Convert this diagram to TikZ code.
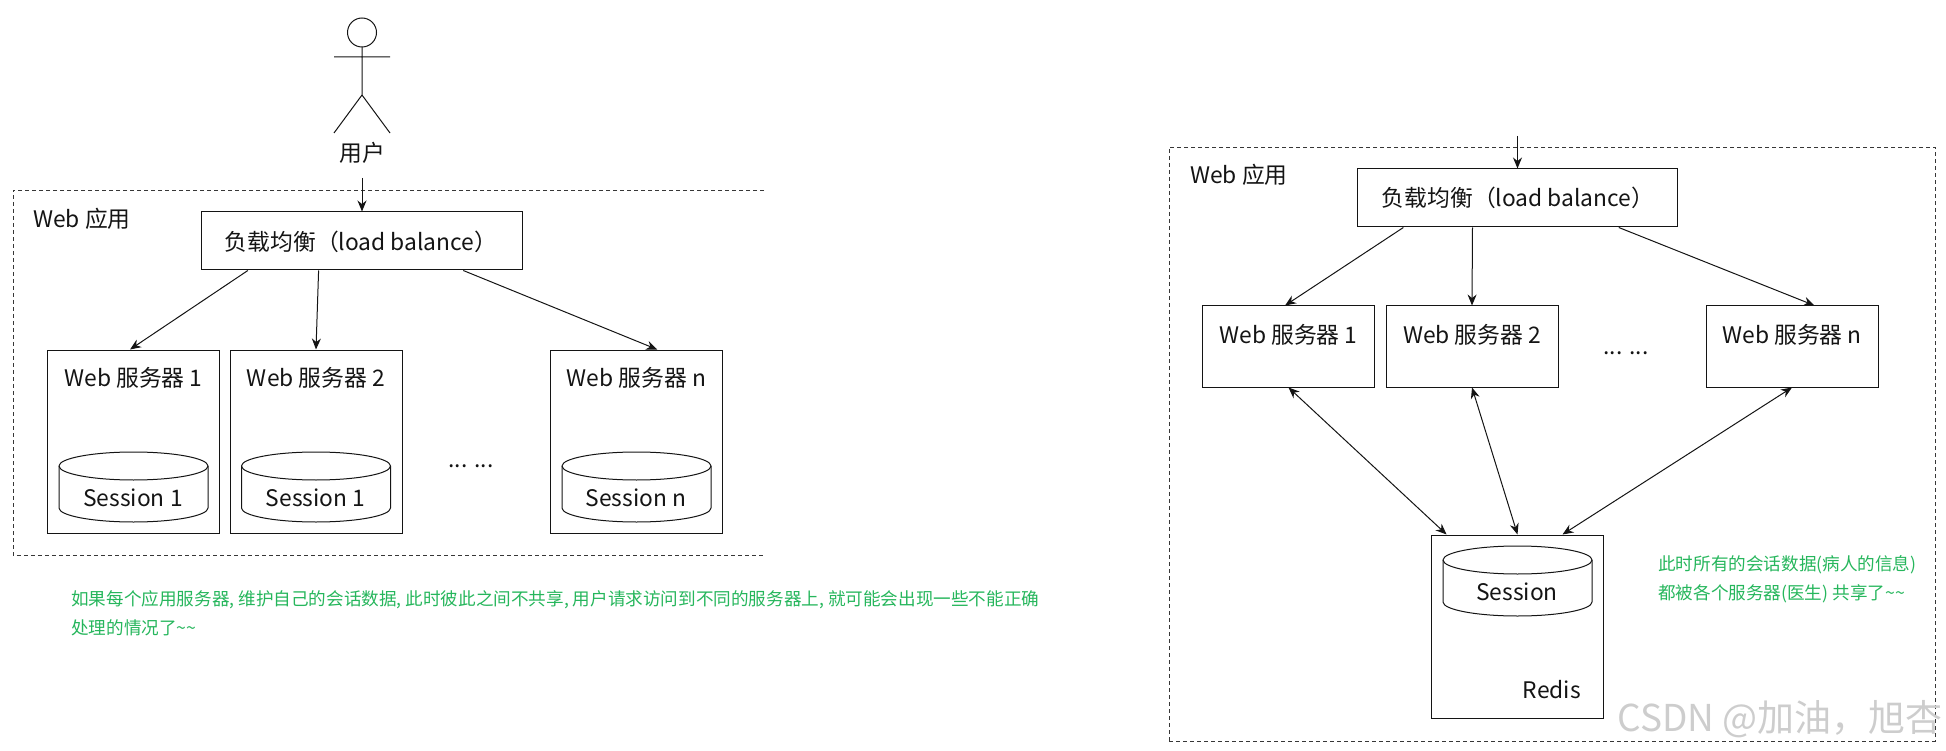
\documentclass[tikz,border=0pt]{standalone}
\usepackage{xcolor}
\usepackage{fontspec}
\setmainfont{Noto Sans CJK SC}
\usetikzlibrary{arrows.meta, positioning, calc}
\definecolor{mydark}{RGB}{20,20,20}
\definecolor{mygreen}{RGB}{38,182,92}
\definecolor{mygray}{RGB}{205,205,205}
\tikzset{
  block/.style={rectangle, draw=mydark, minimum width=#1, inner sep=0pt, line width=1pt},
  lbblock/.style={block=320.5pt, minimum height=58pt},
  webblock/.style={block=172pt, minimum height=183pt},
  webshort/.style={block=172pt, minimum height=81pt},
  redisblock/.style={block=172pt, minimum height=183pt},
  sessioncyl/.pic={
    \draw[line width=1pt, color=mydark] (-74.5,-21) .. controls (-74.5,-28.7) and (-41,-35) .. (0,-35)
      .. controls (41,-35) and (74.5,-28.7) .. (74.5,-21) -- (74.5,21)
      .. controls (74.5,28.7) and (41,35) .. (0,35) .. controls (-41,35) and (-74.5,28.7) .. (-74.5,21) -- cycle;
    \draw[line width=1pt, color=mydark] (-74.5,-21) .. controls (-74.5,-13.3) and (-41,-7) .. (0,-7)
      .. controls (41,-7) and (74.5,-13.3) .. (74.5,-21);
  },
  txt/.style={inner sep=0pt, text=mydark, font=\fontsize{22.8}{26}\selectfont},
  note/.style={inner sep=0pt, text=mygreen, align=left, font=\fontsize{17.6}{29.5}\selectfont},
  arrow/.style={-{Stealth[length=11pt,width=9pt]}, line width=1pt, color=mydark},
  twoway/.style={{Stealth[length=11pt,width=9pt]}-{Stealth[length=11pt,width=9pt]}, line width=1pt, color=mydark},
  dashbox/.style={line width=0.9pt, color=mydark!85, dash pattern=on 4pt off 3pt}
}
\begin{document}
\begin{tikzpicture}[x=1pt, y=-1pt]
  \useasboundingbox (0,0) rectangle (1946,751);

  % Stick figure for the user
  \draw[line width=1pt, color=mydark] (362,32.5) ellipse (14.5 and 14.5);
  \draw[line width=1pt, color=mydark] (362,47) -- (362,95) (334,57) -- (390,57)
    (334,133) -- (362,95) -- (390,133);
  \node[txt] (user) at (362,153) {用户};

  % Left side, sessions kept per server
  \draw[dashbox] (764,190) -- (13,190) -- (13,555) -- (764,555);
  \node[txt, anchor=west] (appa) at (33,219) {Web 应用};
  \node[lbblock] (lba) at (362,241) {};
  \node[txt] (lbatext) at (361,242) {负载均衡（load balance）};

  \node[webblock] (wa) at (133.5,441.5) {};
  \node[webblock] (wb) at (316,441.5) {};
  \node[webblock] (wn) at (636.5,441.5) {};
  \node[txt] (wat) at (133.5,378) {Web 服务器 1};
  \node[txt] (wbt) at (316,378) {Web 服务器 2};
  \node[txt] (wnt) at (636.5,378) {Web 服务器 n};
  \node[txt] (dotsa) at (471,466) {... ...};

  \pic at (133.5,487) {sessioncyl};
  \pic at (316,487) {sessioncyl};
  \pic at (636.5,487) {sessioncyl};
  \node[txt] (sat) at (133,498) {Session 1};
  \node[txt] (sbt) at (315.5,498) {Session 1};
  \node[txt] (snt) at (636,498) {Session n};

  \draw[arrow] (362,178) -- (lba.north);
  \draw[arrow] ($(lba.south west)!0.145!(lba.south east)$) -- ($(wa.north west)!0.48!(wa.north east)$);
  \draw[arrow] ($(lba.south west)!0.365!(lba.south east)$) -- (wb.north);
  \draw[arrow] ($(lba.south west)!0.815!(lba.south east)$) -- ($(wn.north west)!0.62!(wn.north east)$);

  \node[note, anchor=north west] (notea) at (71,590) {如果每个应用服务器, 维护自己的会话数据, 此时彼此之间不共享, 用户请求访问到不同的服务器上, 就可能会出现一些不能正确\\处理的情况了\textasciitilde\textasciitilde};

  % Right side, sessions kept in Redis
  \node[rectangle, dashbox, draw, minimum width=766pt, minimum height=594pt, inner sep=0pt] (appbox) at (1552,444) {};
  \node[txt, anchor=west] (appb) at (1190,175) {Web 应用};
  \node[lbblock] (lbb) at (1517.5,198) {};
  \node[txt] (lbbtext) at (1518,198) {负载均衡（load balance）};

  \node[webshort] (xa) at (1288.5,346.5) {};
  \node[webshort] (xb) at (1472,346.5) {};
  \node[webshort] (xn) at (1792,346.5) {};
  \node[txt] (xat) at (1288.5,335) {Web 服务器 1};
  \node[txt] (xbt) at (1472,335) {Web 服务器 2};
  \node[txt] (xnt) at (1792,335) {Web 服务器 n};
  \node[txt] (dotsb) at (1626,353) {... ...};

  \node[redisblock] (redis) at (1517.5,626.5) {};
  \pic at (1517.5,581) {sessioncyl};
  \node[txt] (srt) at (1517,592) {Session};
  \node[txt, anchor=east] (redist) at (1581,690) {Redis};

  \draw[arrow] (1517.5,136) -- (lbb.north);
  \draw[arrow] ($(lbb.south west)!0.145!(lbb.south east)$) -- ($(xa.north west)!0.48!(xa.north east)$);
  \draw[arrow] ($(lbb.south west)!0.36!(lbb.south east)$) -- (xb.north);
  \draw[arrow] ($(lbb.south west)!0.815!(lbb.south east)$) -- ($(xn.north west)!0.63!(xn.north east)$);

  \draw[twoway] (xa.south) -- ($(redis.north west)!0.09!(redis.north east)$);
  \draw[twoway] (xb.south) -- (redis.north);
  \draw[twoway] (xn.south) -- ($(redis.north west)!0.76!(redis.north east)$);

  \node[note, anchor=north west] (noteb) at (1658,555) {此时所有的会话数据(病人的信息)\\都被各个服务器(医生) 共享了\textasciitilde\textasciitilde};

  % Watermark
  \node[inner sep=0pt, anchor=east, text=mygray, font=\fontsize{37}{40}\selectfont] (mark) at (1943,719) {CSDN @加油，旭杏};
\end{tikzpicture}
\end{document}
